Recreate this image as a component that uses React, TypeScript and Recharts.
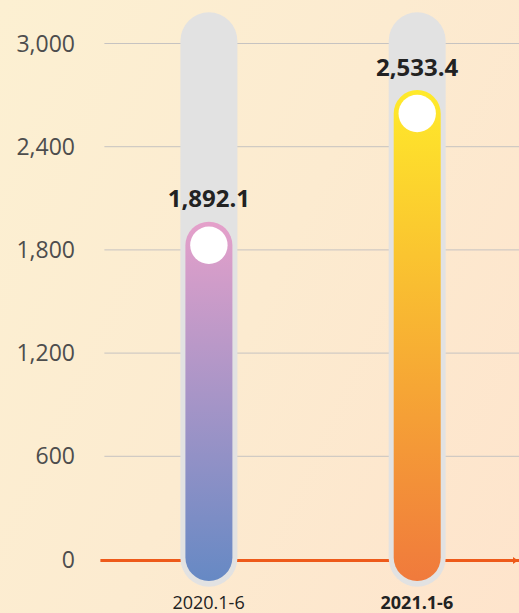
import React from 'react';
import { ComposedChart, Bar, XAxis, YAxis, CartesianGrid } from 'recharts';

const CATEGORIES = ['2020.1-6', '2021.1-6'];
const VALUES = [1892.1, 2533.4];
const Y_TICKS = [0, 600, 1200, 1800, 2400, 3000];
const Y_DOMAIN = [0, 3000];
const BAR_DOMAIN = [247, 2760];

const data = CATEGORIES.map((name, i) => ({ name, value: VALUES[i] }));

const W = 521;
const H = 613;
const MARGIN = { top: 43.5, right: 0, bottom: 0, left: 0 };
const YAXIS_W = 104.4;
const XAXIS_H = 53.5;
const PLOT_BOTTOM = H - MARGIN.bottom - XAXIS_H;
const FONT = "'Open Sans', 'Noto Sans', sans-serif";

const GRADIENTS = [
  { id: 'g0', top: '#E5A0CA', bottom: '#6689C4' },
  { id: 'g1', top: '#FFEA2A', bottom: '#F07A3C' },
];

const fmtTick = (v: number) => v.toLocaleString('en-US');
const fmtVal = (v: number) =>
  v.toLocaleString('en-US', { minimumFractionDigits: 1, maximumFractionDigits: 1 });

const GridLine = (props: any) => {
  const { x1, x2, y1, y2 } = props;
  if (Math.abs(y1 - PLOT_BOTTOM) < 1) {
    return (
      <g>
        <line x1={x1 - 4} x2={x2} y1={y1 + 1} y2={y2 + 1} stroke="#EE5A1A" strokeWidth={3} />
        <path d={`M ${x2 - 8} ${y1 - 2.5} L ${x2 - 3} ${y1 + 1} L ${x2 - 8} ${y1 + 4.5} Z`} fill="#EE5A1A" />
      </g>
    );
  }
  return <line x1={x1} x2={x2} y1={y1} y2={y2} stroke="#C6C3C1" strokeWidth={1} />;
};

const BgShape = (props: any) => {
  const { x, y, width, height } = props;
  return (
    <rect
      x={x - 5}
      y={y - 31.2}
      width={width + 10}
      height={height + 58.4}
      rx={(width + 10) / 2}
      ry={(width + 10) / 2}
      fill="#E2E2E2"
    />
  );
};

const BarShape = (props: any) => {
  const { x, y, width, height, index, value } = props;
  const r = width / 2;
  const bottom = y + height + 21.5;
  const cx = x + r;
  const v = Array.isArray(value) ? value[1] : value;
  return (
    <g>
      <rect x={x} y={y} width={width} height={bottom - y} rx={r} ry={r} fill={`url(#${GRADIENTS[index].id})`} />
      <circle cx={cx} cy={y + r} r={18.7} fill="#FFFFFF" />
      <text
        x={cx}
        y={y - 14.5}
        textAnchor="middle"
        fontFamily={FONT}
        fontWeight={700}
        fontSize={24}
        fill="#222222"
      >
        {fmtVal(v)}
      </text>
    </g>
  );
};

const XTick = (props: any) => {
  const { x, y, payload, index } = props;
  const bold = index === 1;
  return (
    <text
      x={x}
      y={y + 49.5}
      textAnchor="middle"
      fontFamily={FONT}
      fontSize={18}
      fontWeight={bold ? 700 : 400}
      fill="#222222"
    >
      {payload.value}
    </text>
  );
};

export default function App() {
  return (
    <div
      style={{
        position: 'absolute',
        left: 0,
        top: 0,
        width: 519,
        height: 613,
        overflow: 'hidden',
        background: 'linear-gradient(115deg, #FCF0D2 0%, #FCEBD0 50%, #FEE4CC 100%)',
      }}
    >
      <ComposedChart width={W} height={H} data={data} margin={MARGIN}>
        <defs>
          {GRADIENTS.map((g) => (
            <linearGradient key={g.id} id={g.id} x1="0" y1="0" x2="0" y2="1">
              <stop offset="0%" stopColor={g.top} />
              <stop offset="100%" stopColor={g.bottom} />
            </linearGradient>
          ))}
        </defs>
        <CartesianGrid yAxisId="left" vertical={false} horizontal={(p: any) => <GridLine key={p.key ?? p.index} {...p} />} />
        <XAxis
          dataKey="name"
          height={XAXIS_H}
          axisLine={false}
          tickLine={false}
          tickSize={0}
          tickMargin={0}
          tick={(p: any) => <XTick {...p} />}
        />
        <YAxis
          yAxisId="left"
          width={YAXIS_W}
          domain={Y_DOMAIN}
          ticks={Y_TICKS}
          interval={0}
          allowDataOverflow
          axisLine={false}
          tickLine={false}
          tickSize={0}
          tickMargin={29.4}
          tickFormatter={fmtTick}
          tick={{ fill: '#4D4D4D', fontSize: 23, fontFamily: FONT }}
        />
        <YAxis yAxisId="bar" orientation="right" width={0} hide domain={BAR_DOMAIN} />
        <Bar
          yAxisId="bar"
          dataKey="value"
          barSize={47}
          isAnimationActive={false}
          background={(p: any) => <BgShape key={`bg-${p.index}`} {...p} />}
          shape={(p: any) => <BarShape {...p} />}
        />
      </ComposedChart>
    </div>
  );
}
